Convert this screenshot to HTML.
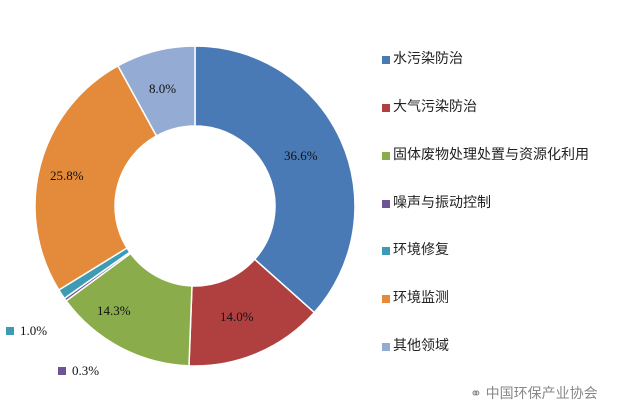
<!DOCTYPE html>
<html><head><meta charset="utf-8"><style>
body{margin:0;width:632px;height:411px;background:#fff;overflow:hidden;font-family:"Liberation Serif","Noto Sans CJK SC",serif;}
.lg{position:absolute;left:382px;font-family:"Liberation Sans","Noto Sans CJK SC",sans-serif;font-size:14px;color:#222;line-height:16px;}
.lg i{display:inline-block;width:8px;height:8px;margin-right:3px;vertical-align:-1px;}
.pl{position:absolute;font-size:13px;color:#111;}
</style></head><body>
<svg id="s" width="632" height="411" style="position:absolute;left:0;top:0"></svg>
<div class="pl" style="left:284px;top:148px">36.6%</div>
<div class="pl" style="left:220px;top:309px">14.0%</div>
<div class="pl" style="left:97px;top:303px">14.3%</div>
<div class="pl" style="left:50px;top:168px">25.8%</div>
<div class="pl" style="left:149px;top:81px">8.0%</div>
<div class="pl" style="left:6px;top:323px"><span style="display:inline-block;width:8px;height:8px;background:#3d9bb3;margin-right:6px"></span>1.0%</div>
<div class="pl" style="left:58px;top:363px"><span style="display:inline-block;width:8px;height:8px;background:#6f5494;margin-right:6px"></span>0.3%</div>
<div class="lg" style="top:50px"><i style="background:#4a7ab5"></i>水污染防治</div>
<div class="lg" style="top:98px"><i style="background:#b0403f"></i>大气污染防治</div>
<div class="lg" style="top:146px"><i style="background:#8aac4a"></i>固体废物处理处置与资源化利用</div>
<div class="lg" style="top:194px"><i style="background:#6f5494"></i>噪声与振动控制</div>
<div class="lg" style="top:241px"><i style="background:#3d9bb3"></i>环境修复</div>
<div class="lg" style="top:289px"><i style="background:#e48a3b"></i>环境监测</div>
<div class="lg" style="top:337px"><i style="background:#94abd4"></i>其他领域</div>
<div style="position:absolute;left:470px;top:383px;font-family:'Liberation Sans','Noto Sans CJK SC',sans-serif;font-size:14px;color:#888">⚭ 中国环保产业协会</div>
<script>
var d=[[36.6,"#4a7ab5"],[14.0,"#b0403f"],[14.3,"#8aac4a"],[0.3,"#6f5494"],[1.0,"#3d9bb3"],[25.8,"#e48a3b"],[8.0,"#94abd4"]];
var cx=195,cy=206,R=160,r=80,a=0,h="";
function p(t,rr){var x=cx+rr*Math.sin(t),y=cy-rr*Math.cos(t);return x.toFixed(2)+" "+y.toFixed(2);}
d.forEach(function(e){var a0=a/100*2*Math.PI;a+=e[0];var a1=a/100*2*Math.PI;var l=(a1-a0)>Math.PI?1:0;
h+='<path d="M'+p(a0,R)+' A'+R+' '+R+' 0 '+l+' 1 '+p(a1,R)+' L'+p(a1,r)+' A'+r+' '+r+' 0 '+l+' 0 '+p(a0,r)+' Z" fill="'+e[1]+'" stroke="#fff" stroke-width="1.5"/>';});
document.getElementById("s").innerHTML=h;
</script>
</body></html>
